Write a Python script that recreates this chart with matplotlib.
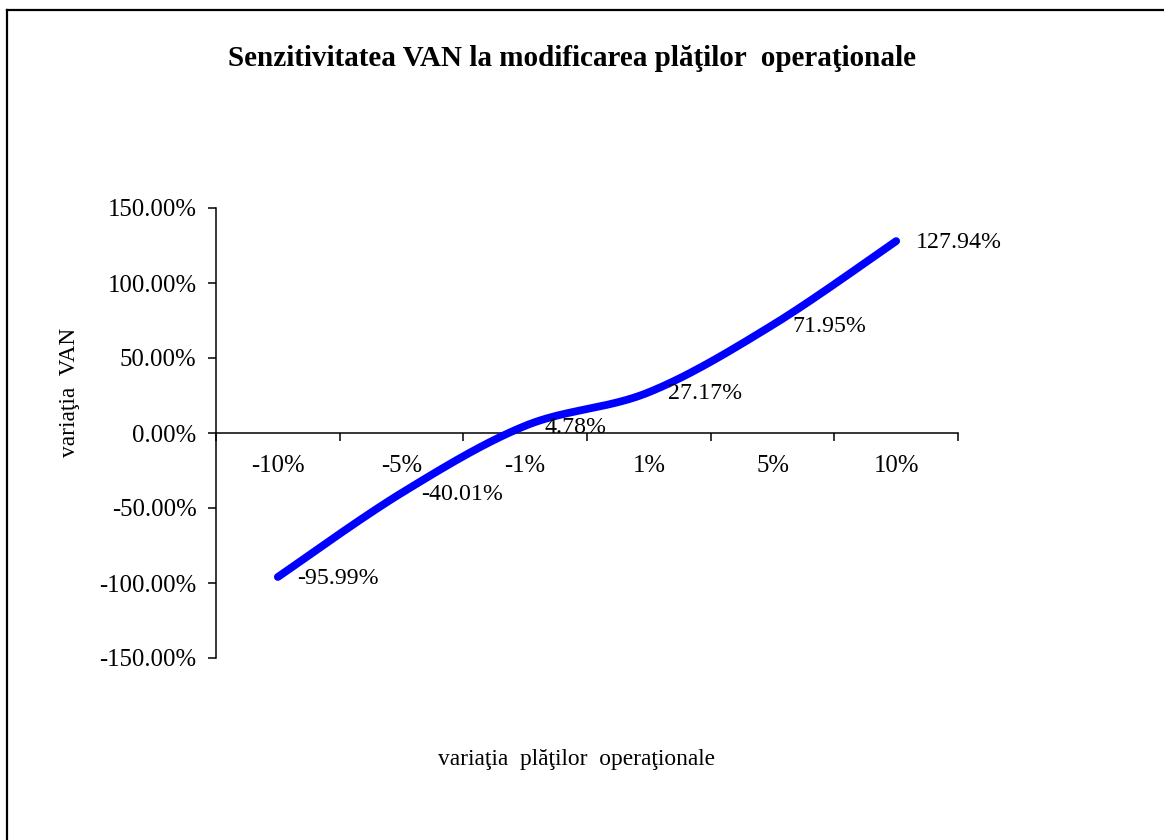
import matplotlib
matplotlib.use("Agg")
import matplotlib.pyplot as plt
import numpy as np
from matplotlib.lines import Line2D

categories = ["-10%", "-5%", "-1%", "1%", "5%", "10%"]
values = [-95.99, -40.01, 4.78, 27.17, 71.95, 127.94]
yticks = [-150, -100, -50, 0, 50, 100, 150]

plt.rcParams['font.family'] = ['Liberation Serif', 'DejaVu Serif']

W, H = 1164, 840
FS = 17.8
FS_LAB = 17.2
FS_AX = 16.8
fig = plt.figure(figsize=(W / 100, H / 100), dpi=100)
ax = fig.add_axes([216 / W, (H - 658) / H, 742 / W, 450 / H])

x = np.arange(len(values), dtype=float)
y = np.array(values, dtype=float)

# Excel-like smoothing (Catmull-Rom as cubic Bezier)
P = np.column_stack([x, y])
pts = []
n = len(P)
for i in range(n - 1):
    p0 = P[i - 1] if i > 0 else P[i]
    p1 = P[i]
    p2 = P[i + 1]
    p3 = P[i + 2] if i + 2 < n else P[i + 1]
    c1 = p1 + (p2 - p0) / 6.0
    c2 = p2 - (p3 - p1) / 6.0
    t = np.linspace(0, 1, 40)[:, None]
    seg = ((1 - t) ** 3) * p1 + 3 * ((1 - t) ** 2) * t * c1 + 3 * (1 - t) * t ** 2 * c2 + t ** 3 * p2
    if i > 0:
        seg = seg[1:]
    pts.append(seg)
curve = np.vstack(pts)
ax.plot(curve[:, 0], curve[:, 1], color="#0000FF", lw=5.6, solid_capstyle="round",
        solid_joinstyle="round", zorder=3)

for xi, yi in zip(x, y):
    ax.annotate(f"{yi:.2f}%", (xi, yi), xytext=(14, -1), textcoords="offset points",
                ha="left", va="center", fontsize=FS_LAB, color="black", zorder=4)

ax.set_xlim(-0.5, len(values) - 0.5)
ax.set_ylim(-150, 150)
ax.spines["top"].set_visible(False)
ax.spines["right"].set_visible(False)
ax.spines["bottom"].set_position(("data", 0))
ax.spines["left"].set_linewidth(1.1)
ax.spines["bottom"].set_linewidth(1.1)

ax.set_yticks(yticks)
ax.set_yticklabels([f"{v:.2f}%" for v in yticks], fontsize=FS)
ax.tick_params(axis="y", direction="out", length=6, width=1.1, pad=8)

ax.set_xticks(np.arange(-0.5, len(values), 1.0))
ax.set_xticklabels([])
ax.tick_params(axis="x", which="major", direction="out", length=6, width=1.1)
ax.set_xticks(x, minor=True)
ax.set_xticklabels(categories, minor=True, fontsize=FS)
ax.tick_params(axis="x", which="minor", length=0, pad=15.5)

fig.text(572 / W, 1 - 59 / H, "Senzitivitatea VAN la modificarea plăţilor  operaţionale",
         ha="center", va="center", fontsize=21, fontweight="bold")
fig.text(70 / W, 1 - 392 / H, "variaţia  VAN", rotation=90, ha="center", va="center",
         fontsize=FS_AX)
fig.text(577 / W, 1 - 760 / H, "variaţia  plăţilor  operaţionale", ha="center",
         va="center", fontsize=FS_AX)

# outer border (left and top visible)
fig.add_artist(Line2D([7 / W, 7 / W], [0, 1 - 9.5 / H], color="black", lw=1.6,
                      transform=fig.transFigure))
fig.add_artist(Line2D([7 / W, 1], [1 - 9.5 / H, 1 - 9.5 / H], color="black", lw=1.6,
                      transform=fig.transFigure))

fig.savefig("out.png", dpi=100, facecolor="white")
